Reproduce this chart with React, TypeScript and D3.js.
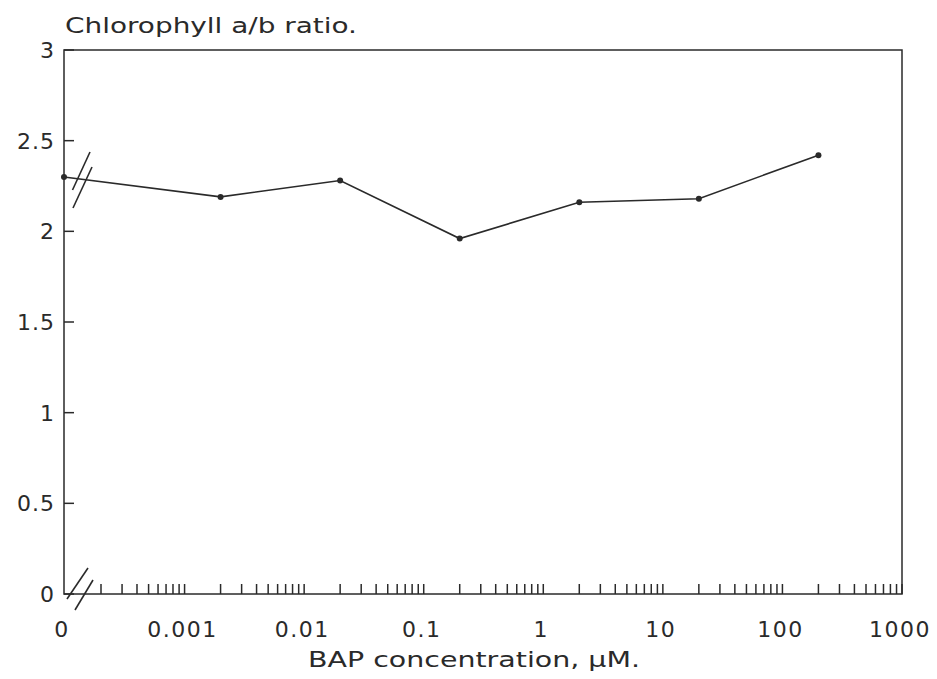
import React, { useEffect, useRef } from 'react';
import * as d3 from 'd3';

// BAP concentration (µM); 0 is the control, drawn on the broken part of the axis
const concentrations = [0, 0.002, 0.02, 0.2, 2, 20, 200];
const abRatio = [2.3, 2.19, 2.28, 1.96, 2.16, 2.18, 2.42];

const xTickValues = [0, 0.001, 0.01, 0.1, 1, 10, 100, 1000];
const xTickLabels = ['0', '0.001', '0.01', '0.1', '1', '10', '100', '1000'];
const yTickValues = [0, 0.5, 1, 1.5, 2, 2.5, 3];
const yTickLabels = ['0', '0.5', '1', '1.5', '2', '2.5', '3'];

const App = () => {
    const chartRef = useRef<HTMLDivElement>(null);

    useEffect(() => {
        const width = 937;
        const height = 679;
        const left = 64;
        const right = 902;
        const top = 50;
        const bottom = 594;
        const logStart = 101; // where 0.0002 sits, just after the axis break
        const ink = '#2a2a2a';
        const font = "'DejaVu Sans', sans-serif";

        const xLog = d3.scaleLog().domain([0.0002, 1000]).range([logStart, right]);
        const x = (v: number) => (v === 0 ? left : xLog(v));
        const y = d3.scaleLinear().domain([0, 3]).range([bottom, top]);

        const svg = d3.select(chartRef.current)
            .append('svg')
            .attr('width', width)
            .attr('height', height)
            .style('position', 'absolute')
            .style('left', 0)
            .style('top', 0)
            .style('background', '#fff');

        // frame
        svg.append('rect')
            .attr('x', left)
            .attr('y', top)
            .attr('width', right - left)
            .attr('height', bottom - top)
            .attr('fill', 'none')
            .attr('stroke', ink)
            .attr('stroke-width', 1.5);

        // y ticks, pointing inward
        svg.selectAll('.ytick')
            .data(yTickValues)
            .enter()
            .append('line')
            .attr('x1', left)
            .attr('x2', left + 10)
            .attr('y1', (d) => y(d))
            .attr('y2', (d) => y(d))
            .attr('stroke', ink)
            .attr('stroke-width', 1.5);

        svg.selectAll('.ylabel')
            .data(yTickValues)
            .enter()
            .append('text')
            .attr('x', 55)
            .attr('y', (d) => y(d))
            .attr('dy', '0.36em')
            .attr('text-anchor', 'end')
            .attr('font-family', font)
            .attr('font-size', 22)
            .attr('letter-spacing', 1)
            .attr('fill', ink)
            .text((d, i) => yTickLabels[i]);

        // log minor ticks along the x axis
        svg.selectAll('.xtick')
            .data(xLog.ticks())
            .enter()
            .append('line')
            .attr('x1', (d) => xLog(d))
            .attr('x2', (d) => xLog(d))
            .attr('y1', bottom)
            .attr('y2', bottom - 10)
            .attr('stroke', ink)
            .attr('stroke-width', 1.5);

        svg.selectAll('.xlabel')
            .data(xTickValues)
            .enter()
            .append('text')
            .attr('x', (d) => x(d) - 2)
            .attr('y', 637)
            .attr('text-anchor', 'middle')
            .attr('font-family', font)
            .attr('font-size', 22)
            .attr('letter-spacing', 1.5)
            .attr('fill', ink)
            .text((d, i) => xTickLabels[i]);

        // axis break marks
        const slash = (x1: number, y1: number, x2: number, y2: number) =>
            svg.append('line')
                .attr('x1', x1).attr('y1', y1)
                .attr('x2', x2).attr('y2', y2)
                .attr('stroke', ink)
                .attr('stroke-width', 1.6);
        slash(90, 152, 72.5, 190);
        slash(92, 167, 73, 208);
        slash(88, 568, 67, 599);
        slash(93, 580, 75, 610);

        // data line
        const points = concentrations.map((c, i) => [x(c), y(abRatio[i])] as [number, number]);
        svg.append('path')
            .attr('d', d3.line()(points))
            .attr('fill', 'none')
            .attr('stroke', ink)
            .attr('stroke-width', 1.6);

        svg.selectAll('.dot')
            .data(points)
            .enter()
            .append('circle')
            .attr('cx', (d) => d[0])
            .attr('cy', (d) => d[1])
            .attr('r', 3)
            .attr('fill', ink);

        // titles
        svg.append('text')
            .attr('x', 65)
            .attr('y', 33)
            .attr('font-family', font)
            .attr('font-size', 22)
            .attr('textLength', 292)
            .attr('lengthAdjust', 'spacingAndGlyphs')
            .attr('fill', ink)
            .text('Chlorophyll a/b ratio.');

        svg.append('text')
            .attr('x', 308)
            .attr('y', 667)
            .attr('font-family', font)
            .attr('font-size', 21)
            .attr('textLength', 332)
            .attr('lengthAdjust', 'spacingAndGlyphs')
            .attr('fill', ink)
            .text('BAP concentration, µM.');

        return () => {
            svg.remove();
        };
    }, []);

    return <div ref={chartRef}></div>;
};

export default App;
